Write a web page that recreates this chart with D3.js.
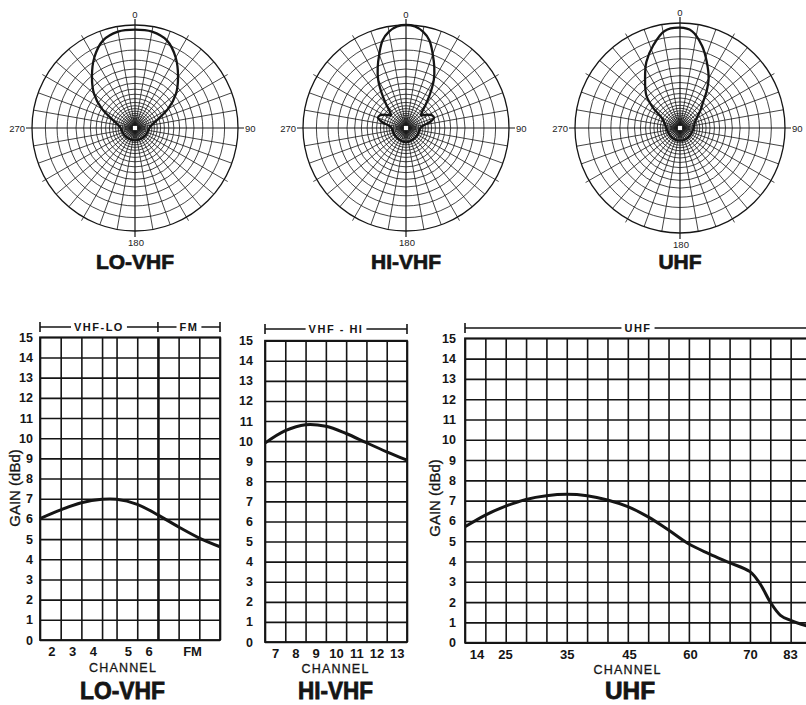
<!DOCTYPE html>
<html><head><meta charset="utf-8">
<script src="https://cdn.jsdelivr.net/npm/d3@7"></script>
<style>body{margin:0;background:#fff}svg{display:block}</style>
</head><body>
<svg id="c" width="806" height="705"></svg>
<script>
// ================= DATA =================
const polarTitles = ["LO-VHF", "HI-VHF", "UHF"];
const compassTicks = [0, 90, 180, 270];

// relative field strength (0..1) vs azimuth (deg, clockwise from 0 at top)
const loVhfAz    = [0,10,20,30,40,50,60,70,80,90,120,150,180,210,240,270,280,290,300,310,320,330,340,350];
const loVhfField = [.955,.95,.905,.79,.65,.52,.37,.23,.165,.14,.125,.12,.12,.12,.125,.14,.165,.23,.37,.52,.65,.79,.905,.95];

const hiVhfAz    = [0,5,10,15,20,25,30,35,40,45,50,57,64,70,76,82,90,120,150,180,210,240,270,278,284,290,296,303,310,315,320,325,330,335,340,345,350,355];
const hiVhfField = [1.0,.99,.95,.88,.76,.65,.54,.41,.30,.22,.19,.24,.28,.29,.24,.17,.14,.13,.13,.14,.13,.13,.14,.17,.24,.29,.28,.24,.19,.22,.30,.41,.54,.65,.76,.88,.95,.99];

const uhfAz      = [0,7,15,22,30,36,41,50,58,70,90,120,150,180,210,240,270,290,300,307,314,325,333,342,351];
const uhfField   = [.955,.93,.81,.68,.545,.43,.34,.25,.19,.15,.13,.12,.12,.12,.12,.12,.13,.16,.207,.323,.445,.58,.706,.826,.936];

// gain charts (x in grid-cell units)
const gainTicks = [0,1,2,3,4,5,6,7,8,9,10,11,12,13,14,15];

const loGridX      = [0,1,2,3,3.7,4.7,5.7,6.7,7.7,8.7];
const loTickPos    = [0.55,1.55,2.55,4.25,5.25,7.35];
const loTickLabels = ["2","3","4","5","6","FM"];
const loBands      = [{label:"VHF-LO", from:0, to:5.7}, {label:"FM", from:5.7, to:8.7}];
const loCurveX     = [0,1,2,3,3.7,4.7,5.7,6.7,7.7,8.7];
const loGain       = [6.02,6.45,6.8,6.97,6.97,6.72,6.2,5.6,5.05,4.62];

const hiGridX      = [0,1,2,3,4,5,6,7];
const hiTickPos    = [0.5,1.5,2.5,3.5,4.5,5.5,6.5];
const hiTickLabels = ["7","8","9","10","11","12","13"];
const hiBands      = [{label:"VHF - HI", from:0, to:7}];
const hiCurveX     = [0,1,2,3,4,5,6,7];
const hiGain       = [9.9,10.52,10.82,10.74,10.38,9.92,9.47,9.05];

const uhfGridX      = [0,1,2,3,4,5,6,7,8,9,10,11,12,13,14,15,16,17];
const uhfTickPos    = [0.57,1.97,5.0,8.06,11.06,14.0,15.97];
const uhfTickLabels = ["14","25","35","45","60","70","83"];
const uhfBands      = [{label:"UHF", from:0, to:17}];
const uhfCurveX     = [0,1,2,3,4,5,6,7,8,9,10,11,12,13,14,14.5,15,15.5,16,16.8];
const uhfGain       = [5.71,6.29,6.73,7.06,7.24,7.31,7.24,7.03,6.7,6.2,5.55,4.86,4.38,3.94,3.5,2.9,2.0,1.35,1.1,0.82];

// ================= DRAW =================
const W = 806, H = 705, INK = "#151515";
const svg = d3.select("#c");
svg.append("rect").attr("width", W).attr("height", H).attr("fill", "#fff");

// ---------- polar plots ----------
const polarLayout = [{cx:135, cy:128, R:103}, {cx:406, cy:128, R:103}, {cx:680, cy:128, R:105}];
const patterns = [[loVhfAz, loVhfField], [hiVhfAz, hiVhfField], [uhfAz, uhfField]];
const ringLevels = d3.range(0, 28).map(k => Math.pow(0.87, k));
const spokeAngles = d3.range(0, 360, 10);
const rad = a => a * Math.PI / 180;

polarLayout.forEach((L, i) => {
  const g = svg.append("g").attr("transform", `translate(${L.cx},${L.cy})`);
  const r = d3.scaleLinear().domain([0, 1]).range([0, L.R]);
  g.selectAll("circle.ring").data(ringLevels).join("circle")
    .attr("r", d => r(d)).attr("fill", "none").attr("stroke", INK)
    .attr("stroke-width", (d, j) => j === 0 ? 1.3 : 0.8);
  const ext = a => r(1) + (a % 90 === 0 ? 6 : (a % 30 === 0 ? 4 : 0));
  g.selectAll("line.spoke").data(spokeAngles).join("line")
    .attr("x1", 0).attr("y1", 0)
    .attr("x2", a => Math.sin(rad(a)) * ext(a))
    .attr("y2", a => -Math.cos(rad(a)) * ext(a))
    .attr("stroke", INK).attr("stroke-width", a => a % 90 === 0 ? 1.2 : 0.8);

  const [az, fld] = patterns[i];
  const pts = az.map((a, j) => [rad(a), r(fld[j])]);
  g.append("path")
    .attr("d", d3.lineRadial().curve(d3.curveCatmullRomClosed.alpha(0.5))(pts))
    .attr("fill", "none").attr("stroke", INK).attr("stroke-width", 2.3);

  g.append("rect").attr("x", -2.5).attr("y", -2.5).attr("width", 5).attr("height", 5)
    .attr("fill", "#fff").attr("stroke", INK).attr("stroke-width", 0.8);

  const lab = g.append("g").attr("font-family", "Liberation Sans, Arial, sans-serif")
    .attr("font-size", 9.5).attr("fill", "#222");
  compassTicks.forEach(t => {
    const t0 = lab.append("text").text(t);
    if (t === 0) t0.attr("x", 0).attr("y", -L.R - 7).attr("text-anchor", "middle");
    if (t === 180) t0.attr("x", 1).attr("y", L.R + 15).attr("text-anchor", "middle");
    if (t === 270) t0.attr("x", -L.R - 7).attr("y", 3.5).attr("text-anchor", "end");
    if (t === 90) t0.attr("x", L.R + 7).attr("y", 3.5).attr("text-anchor", "start");
  });

  svg.append("text").text(polarTitles[i])
    .attr("x", L.cx).attr("y", 269).attr("text-anchor", "middle")
    .attr("font-family", "Liberation Sans, Arial, sans-serif").attr("font-weight", "bold")
    .attr("font-size", 21).attr("fill", INK).attr("stroke", INK).attr("stroke-width", 0.7);
});

// ---------- gain charts ----------
const charts = [
  {x0:40, x1:220, yb:640, yt:337.3, dom:8.7, grid:loGridX, tpos:loTickPos, tlab:loTickLabels, bands:loBands,
   cx:loCurveX, cy:loGain, pad:7, hy:327, title:"LO-VHF", tx:122.5, tlen:85, chx:123, chy:671.7, gain:{x:19.5, y:488}, thick:5.7},
  {x0:265, x1:407, yb:642, yt:340.7, dom:7, grid:hiGridX, tpos:hiTickPos, tlab:hiTickLabels, bands:hiBands,
   cx:hiCurveX, cy:hiGain, pad:12, hy:329, title:"HI-VHF", tx:335.5, tlen:75, chx:335.5, chy:673, gain:null, thick:null},
  {x0:465, x1:811, yb:642.7, yt:338.3, dom:17, grid:uhfGridX, tpos:uhfTickPos, tlab:uhfTickLabels, bands:uhfBands,
   cx:uhfCurveX, cy:uhfGain, pad:9, hy:328, title:"UHF", tx:630, tlen:50, chx:627.5, chy:674, gain:{x:439.5, y:498}, thick:null}
];

charts.forEach(c => {
  const x = d3.scaleLinear().domain([0, c.dom]).range([c.x0, c.x1]);
  const y = d3.scaleLinear().domain([0, 15]).range([c.yb, c.yt]);
  const w = c.x1 - c.x0, h = c.yb - c.yt;
  const g = svg.append("g");

  // vertical grid
  const gx = g.append("g").attr("transform", `translate(0,${c.yb})`)
    .call(d3.axisBottom(x).tickValues(c.grid).tickSize(-h).tickFormat(""));
  gx.select(".domain").remove();
  gx.selectAll(".tick line").attr("stroke", INK)
    .attr("stroke-width", d => (c.thick !== null && d === c.thick) ? 2.6 : 1.6);

  // horizontal grid + y labels
  const gy = g.append("g").attr("transform", `translate(${c.x0},0)`)
    .call(d3.axisLeft(y).tickValues(gainTicks).tickSize(-w).tickPadding(c.pad));
  gy.select(".domain").remove();
  gy.selectAll(".tick line").attr("stroke", INK).attr("stroke-width", 1.6);
  gy.selectAll(".tick text").attr("font-family", "Liberation Sans, Arial, sans-serif")
    .attr("font-weight", "bold").attr("font-size", 12.5).attr("fill", INK);

  // border
  g.append("rect").attr("x", c.x0).attr("y", c.yt).attr("width", w).attr("height", h)
    .attr("fill", "none").attr("stroke", INK).attr("stroke-width", 1.8);

  // channel labels
  const gl = g.append("g").attr("transform", `translate(0,${c.yb})`)
    .call(d3.axisBottom(x).tickValues(c.tpos).tickSize(0).tickPadding(7)
      .tickFormat((d, i) => c.tlab[i]));
  gl.select(".domain").remove();
  gl.selectAll(".tick text").attr("font-family", "Liberation Sans, Arial, sans-serif")
    .attr("font-weight", "bold").attr("font-size", 13).attr("fill", INK);

  // curve
  g.append("path").datum(c.cx.map((d, i) => [d, c.cy[i]]))
    .attr("d", d3.line().x(d => x(d[0])).y(d => y(d[1])).curve(d3.curveCatmullRom.alpha(0.5)))
    .attr("fill", "none").attr("stroke", INK).attr("stroke-width", 3);

  // header bracket
  const hb = g.append("g");
  hb.append("line").attr("x1", x(0)).attr("x2", x(c.dom)).attr("y1", c.hy).attr("y2", c.hy)
    .attr("stroke", INK).attr("stroke-width", 1.5);
  const edges = Array.from(new Set(c.bands.flatMap(b => [b.from, b.to])));
  hb.selectAll("line.edge").data(edges).join("line")
    .attr("x1", d => x(d)).attr("x2", d => x(d)).attr("y1", c.hy - 5).attr("y2", c.hy + 5)
    .attr("stroke", INK).attr("stroke-width", 1.6);
  c.bands.forEach(b => {
    const t = hb.append("text").text(b.label)
      .attr("x", x((b.from + b.to) / 2)).attr("y", c.hy + 4).attr("text-anchor", "middle")
      .attr("font-family", "Liberation Sans, Arial, sans-serif").attr("font-weight", "bold")
      .attr("font-size", 11).attr("letter-spacing", 1.5).attr("fill", INK);
    const bb = t.node().getBBox();
    hb.insert("rect", "text").attr("x", bb.x - 3).attr("y", c.hy - 3)
      .attr("width", bb.width + 6).attr("height", 6).attr("fill", "#fff");
  });

  // CHANNEL
  g.append("text").text("CHANNEL").attr("x", c.chx).attr("y", c.chy).attr("text-anchor", "middle")
    .attr("font-family", "Liberation Sans, Arial, sans-serif").attr("font-size", 12.5)
    .attr("letter-spacing", 1.2).attr("fill", INK).attr("stroke", INK).attr("stroke-width", 0.3);

  // bottom title
  g.append("text").text(c.title).attr("x", c.tx).attr("y", 699).attr("text-anchor", "middle")
    .attr("font-family", "Liberation Sans, Arial, sans-serif").attr("font-weight", "bold")
    .attr("font-size", 24).attr("textLength", c.tlen).attr("lengthAdjust", "spacingAndGlyphs")
    .attr("fill", INK).attr("stroke", INK).attr("stroke-width", 0.8);

  // y title
  if (c.gain) {
    g.append("text").text("GAIN (dBd)")
      .attr("transform", `translate(${c.gain.x},${c.gain.y}) rotate(-90)`)
      .attr("text-anchor", "middle")
      .attr("font-family", "Liberation Sans, Arial, sans-serif").attr("font-size", 15)
      .attr("fill", INK).attr("stroke", INK).attr("stroke-width", 0.3);
  }
});
</script>
</body></html>
